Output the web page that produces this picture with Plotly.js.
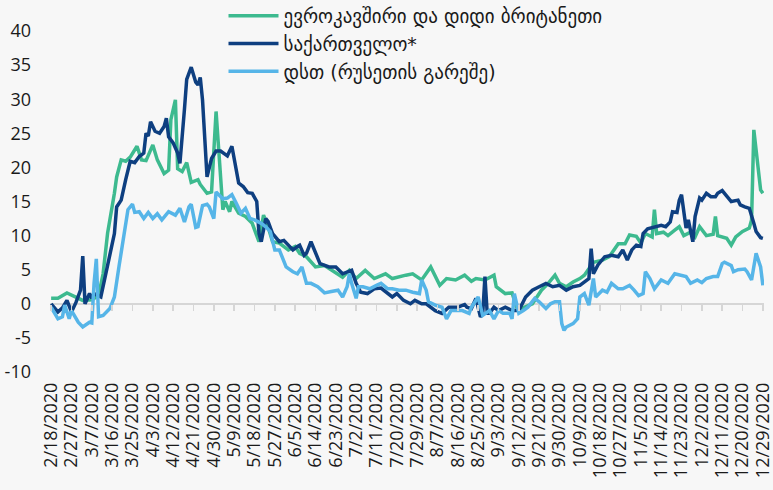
<!DOCTYPE html>
<html>
<head>
<meta charset="utf-8">
<script src="https://cdn.plot.ly/plotly-3.0.1.min.js"></script>
<style>
  body { margin: 0; background: #f7f7f7; }
  #myPlot1 { width: 773px; height: 490px; }
</style>
</head>
<body>
<div id="myPlot1"></div>
<script>
// days counted from 2/18/2020
var startDate = new Date(Date.UTC(2020, 1, 18));

var seriesNames = [
	'ევროკავშირი და დიდი ბრიტანეთი',
	'საქართველო*',
	'დსთ (რუსეთის გარეშე)'
];
var seriesColors = ['#3dba8f', '#0e3f80', '#56b5e8'];

// x tick labels (every 9 days)
var xTickLabels = ['2/18/2020','2/27/2020','3/7/2020','3/16/2020','3/25/2020','4/3/2020','4/12/2020','4/21/2020','4/30/2020','5/9/2020','5/18/2020','5/27/2020','6/5/2020','6/14/2020','6/23/2020','7/2/2020','7/11/2020','7/20/2020','7/29/2020','8/7/2020','8/16/2020','8/25/2020','9/3/2020','9/12/2020','9/21/2020','9/30/2020','10/9/2020','10/18/2020','10/27/2020','11/5/2020','11/14/2020','11/23/2020','12/2/2020','12/11/2020','12/20/2020','12/29/2020'];
var yTickVals = [-10,-5,0,5,10,15,20,25,30,35,40];
var yTickLabels = ['-10','-5','0','5','10','15','20','25','30','35','40'];

// EU + UK
var euDays = [0,3,7,11,14,18,21,23,25,28,29,31,33,35,38,40,42,45,47,50,52,53,55,56,58,60,62,65,66,69,71,73,76,77,79,80,83,86,89,92,94,96,98,101,105,108,110,113,117,121,125,129,132,135,139,143,148,151,157,160,164,168,172,175,179,183,186,188,192,196,197,201,204,206,208,213,217,220,223,225,228,231,234,236,240,244,247,251,254,256,259,261,263,266,267,268,271,273,276,278,280,283,285,287,290,293,294,295,299,301,303,306,309,310,311,313,314,315];
var euVals = [0.8,0.8,1.6,1.0,0.5,0.6,1.2,4.4,10.4,16.2,18.6,21.1,20.9,21.5,23.1,21.1,21.0,23.3,21.1,19.1,19.6,27.0,29.9,19.8,19.4,20.7,17.8,18.2,17.5,16.2,16.4,28.2,13.8,15.0,13.5,15.0,13.3,12.8,11.8,9.1,13.0,11.3,9.1,8.9,7.9,8.4,7.4,6.9,5.4,5.6,4.8,3.9,4.9,3.7,4.9,3.7,4.4,3.7,4.2,4.4,3.5,5.4,2.7,3.7,3.5,4.2,3.3,3.7,3.5,4.2,2.5,1.5,1.6,-0.5,-0.7,0.0,2.0,3.0,4.2,3.0,2.5,3.2,3.7,4.2,6.1,6.4,6.9,8.8,8.8,10.1,9.9,8.9,10.3,9.8,13.8,10.3,10.5,10.0,10.8,11.3,10.0,10.5,9.8,11.3,10.0,10.2,12.8,10.0,9.6,8.6,9.8,10.6,11.1,12.3,25.5,19.6,16.7,16.2];

// Georgia
var geoDays = [0,3,5,7,9,11,13,14,15,17,18,19,22,25,28,29,31,33,35,37,39,41,42,43,44,46,48,50,51,52,54,56,57,59,60,62,64,65,66,67,69,71,73,75,78,80,81,83,85,87,89,91,92,93,95,96,98,101,103,107,109,110,112,113,115,117,119,123,126,129,133,135,137,140,143,146,149,151,153,156,159,161,164,166,170,173,176,180,183,184,186,188,190,191,192,193,194,196,198,201,204,207,210,213,216,219,222,225,228,231,234,237,238,239,240,242,245,248,251,253,255,257,259,261,262,264,267,270,272,274,275,277,278,279,281,282,284,285,287,288,290,292,294,295,297,299,301,304,305,307,309,311,312,314,315];
var geoVals = [0.0,-1.2,-0.6,0.5,-1.2,0.2,2.0,7.0,0.0,1.5,0.8,1.5,1.0,5.4,10.3,14.2,15.2,18.2,20.9,20.7,21.6,22.1,25.0,24.6,26.7,25.3,25.0,26.0,27.2,24.5,23.6,22.1,20.6,28.5,32.9,34.7,32.5,32.1,33.2,29.9,18.6,21.3,22.4,22.4,21.7,23.1,21.4,17.7,17.2,16.3,16.2,15.0,10.3,9.1,12.5,12.1,10.3,9.1,9.3,7.9,8.4,8.6,7.1,7.4,9.1,7.4,5.9,5.4,5.4,4.4,4.9,3.0,1.7,1.5,2.2,2.3,1.5,1.0,1.5,0.5,0.0,0.5,0.0,0.0,-1.0,-1.4,-0.5,-0.5,-0.1,-0.5,-0.7,0.8,-1.9,-1.5,4.0,-1.4,-1.4,-0.5,-1.0,-0.5,-1.0,-1.0,1.0,2.0,2.5,3.0,2.5,2.7,2.0,2.5,2.7,3.5,3.7,8.1,4.4,5.7,6.9,7.1,6.9,7.9,6.4,7.9,8.6,8.4,10.3,11.0,11.3,11.5,11.3,12.0,13.5,13.4,15.2,16.0,11.1,12.3,9.1,12.8,15.5,15.2,16.2,15.7,15.7,16.2,16.6,15.7,15.0,15.2,14.5,14.2,14.0,11.8,10.6,9.7,9.6];

// CIS without Russia
var cisDays = [0,3,5,6,8,9,12,14,17,18,19,20,21,23,26,28,30,31,33,34,36,37,39,41,43,45,47,49,52,55,57,59,61,62,64,65,67,69,70,72,73,76,78,80,82,84,86,88,90,93,95,97,99,101,104,107,109,111,113,115,118,121,124,127,129,131,132,133,135,136,138,141,144,146,149,151,154,157,160,163,164,166,167,170,173,175,177,179,182,185,186,189,191,194,196,198,200,203,204,205,207,209,211,214,216,219,221,223,225,226,227,228,231,233,234,236,238,240,241,244,246,248,251,253,256,258,260,262,263,265,267,270,273,276,279,281,283,286,288,290,293,295,297,298,301,302,304,307,308,310,312,314,315];
var cisVals = [-0.5,-2.2,-1.9,-0.2,-2.2,-1.0,-2.7,-3.4,-2.7,-2.8,3.0,6.6,-1.9,-1.7,-0.7,1.0,5.4,7.4,11.3,13.8,14.6,13.4,13.5,12.5,13.4,12.5,13.2,12.3,13.5,13.0,14.0,12.0,14.2,14.6,11.2,11.3,14.4,14.6,14.2,12.5,16.4,15.4,15.5,16.0,14.7,13.3,14.0,12.5,12.3,11.8,11.3,10.6,7.9,7.9,5.4,4.7,4.4,5.4,3.0,3.0,2.5,1.6,1.8,2.0,1.0,2.5,4.4,3.0,0.8,2.5,2.5,2.2,2.7,3.0,2.2,2.2,2.0,2.0,1.7,1.5,3.5,2.0,0.3,-0.2,-0.5,-2.2,-1.0,-1.0,-1.0,-1.4,-0.5,1.0,-1.7,-1.0,-2.2,-1.0,-1.4,-1.4,-2.2,1.5,-1.4,-1.0,-0.5,0.8,0.3,-0.7,0.0,0.3,0.3,-2.9,-3.9,-3.4,-2.9,-2.2,1.0,1.5,-0.2,3.7,1.0,2.0,1.7,3.0,2.2,2.2,2.7,2.0,1.2,1.5,4.7,3.7,2.2,3.5,3.0,4.4,4.2,4.0,3.0,3.5,3.1,3.7,4.0,4.0,5.9,6.1,5.6,4.7,5.0,5.1,4.7,3.5,7.4,5.4,2.7];

function toDates(days){
	var out = [];
	for(var i = 0; i < days.length; i++){
		var d = new Date(startDate.getTime() + days[i]*86400000);
		out.push(d.toISOString().slice(0, 10));
	}
	return out;
}

function plotData(){
	var allDays = [euDays, geoDays, cisDays];
	var allVals = [euVals, geoVals, cisVals];
	// last series sits on the overlay axis (x2 matches x) so that axis gets drawn
	var xRefs = ['x', 'x', 'x2'];

	var traceArray = [];
	for(var i = 0; i < 3; i++){
		var trace = {
			x: toDates(allDays[i]),
			y: allVals[i],
			xaxis: xRefs[i],
			type: 'scatter',
			mode: 'lines',
			name: seriesNames[i],
			line: {color: seriesColors[i], width: 3.5},
			hoverinfo: 'skip'
		};
		traceArray.push(trace);
	}

	// tick positions, one every 9 days
	var tickDays = [];
	for(var k = 0; k < xTickLabels.length; k++) tickDays.push(k*9);
	var tickDates = toDates(tickDays);

	var plotLayout1 = {
		width: 773,
		height: 490,
		paper_bgcolor: '#f7f7f7',
		plot_bgcolor: '#f7f7f7',
		margin: {l: 50, r: 9, t: 31, b: 118, autoexpand: false},
		font: {family: 'Open Sans, DejaVu Sans, sans-serif', size: 18, color: '#1a1a1a'},
		showlegend: true,
		legend: {
			x: 0.243, xanchor: 'left',
			y: 1.1, yanchor: 'top',
			bgcolor: 'rgba(0,0,0,0)',
			font: {family: 'DejaVu Sans, sans-serif', size: 19, color: '#1a1a1a'},
			itemwidth: 50,
			tracegroupgap: 0
		},
		xaxis: {
			type: 'date',
			range: ['2020-02-17 12:00', '2020-12-29 12:00'],
			tickmode: 'array',
			tickvals: tickDates,
			ticktext: xTickLabels,
			tickangle: -90,
			ticks: '',
			ticklabeloverflow: 'allow',
			showgrid: false,
			zeroline: false,
			showline: false,
			ticklabelstandoff: 6,
			tickfont: {size: 18}
		},
		// only the little ticks sitting on the zero line
		xaxis2: {
			type: 'date',
			overlaying: 'x',
			matches: 'x',
			anchor: 'free',
			position: 0.2,
			tickmode: 'array',
			tickvals: tickDates,
			ticks: 'outside',
			ticklen: 6,
			tickwidth: 1.5,
			tickcolor: '#d6d6d6',
			showticklabels: false,
			showgrid: false,
			zeroline: false,
			showline: false
		},
		yaxis: {
			range: [-10, 40],
			tickmode: 'array',
			tickvals: yTickVals,
			ticktext: yTickLabels,
			showgrid: false,
			zeroline: true,
			zerolinecolor: '#d6d6d6',
			zerolinewidth: 2,
			showline: false,
			ticks: '',
			ticklabelstandoff: 18
		}
	};

	var myPlot1 = document.getElementById('myPlot1');
	Plotly.newPlot(myPlot1, traceArray, plotLayout1, {displayModeBar: false, staticPlot: true});
}

plotData();
</script>
</body>
</html>
